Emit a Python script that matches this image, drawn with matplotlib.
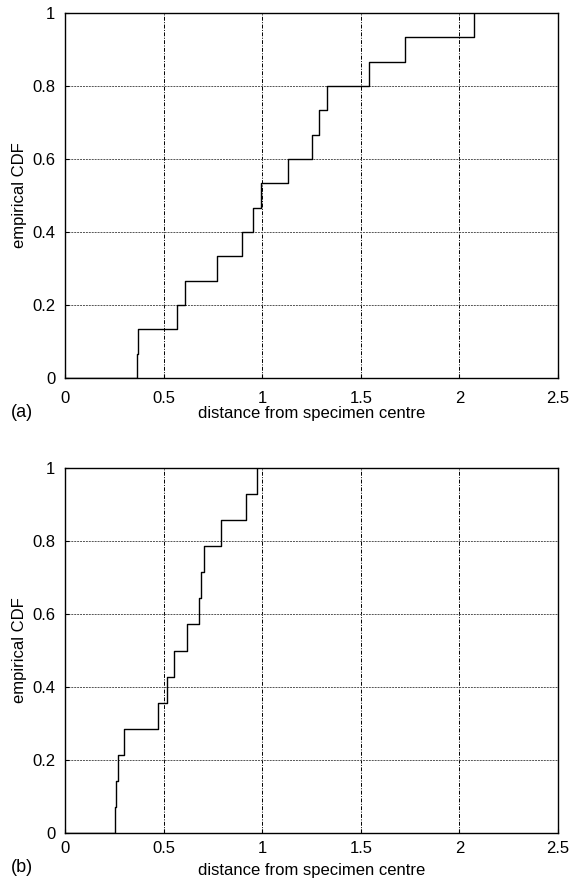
import numpy as np
import matplotlib
matplotlib.use('Agg')
import matplotlib.pyplot as plt

plt.rcParams['font.family'] = ['Liberation Sans', 'DejaVu Sans']

# sorted distances, panel (a) 15 points, panel (b) 14 points
dist_a = [0.365, 0.372, 0.566, 0.608, 0.769, 0.896, 0.952, 0.995,
          1.132, 1.254, 1.286, 1.330, 1.540, 1.726, 2.072]
dist_b = [0.255, 0.257, 0.267, 0.301, 0.470, 0.516, 0.554, 0.620,
          0.681, 0.688, 0.705, 0.789, 0.920, 0.972]

xticks = [0, 0.5, 1, 1.5, 2, 2.5]
xtick_labels = ['0', '0.5', '1', '1.5', '2', '2.5']
yticks = [0, 0.2, 0.4, 0.6, 0.8, 1]
ytick_labels = ['0', '0.2', '0.4', '0.6', '0.8', '1']
panel_labels = ['(a)', '(b)']

fig = plt.figure(figsize=(5.71, 8.83), dpi=100)
rects = [[0.1138, 0.5719, 0.8634, 0.4134],
         [0.1138, 0.0566, 0.8634, 0.4134]]
# tick label pad / xlabel pad per panel
pads = [(9, 0), (6, 5)]

for rect, dist, lab, (tpad, lpad) in zip(rects, [dist_a, dist_b], panel_labels, pads):
    ax = fig.add_axes(rect)
    x = np.sort(np.array(dist))
    n = len(x)
    cdf = np.arange(1, n + 1) / n
    ax.step(np.r_[0, x], np.r_[0, cdf], where='post', color='black', lw=1.0)

    ax.set_xlim(0, 2.5)
    ax.set_ylim(0, 1)
    ax.set_xticks(xticks)
    ax.set_xticklabels(xtick_labels)
    ax.set_yticks(yticks)
    ax.set_yticklabels(ytick_labels)
    ax.tick_params(direction='in', length=3, width=0.8, labelsize=12)
    ax.tick_params(axis='x', pad=tpad)
    ax.tick_params(axis='y', pad=7)
    ax.xaxis.grid(True, color='black', lw=0.7, linestyle=(0, (4, 1.5, 1, 1.5)))
    ax.yaxis.grid(True, color='#555555', lw=0.7, linestyle=(0, (2, 1)))
    for sp in ax.spines.values():
        sp.set_linewidth(1.0)
    ax.set_xlabel('distance from specimen centre', fontsize=12, labelpad=lpad)
    ax.set_ylabel('empirical CDF', fontsize=12, labelpad=4)
    ax.text(-0.11, -0.095, lab, transform=ax.transAxes, fontsize=13,
            ha='left', va='center')

fig.savefig('out.png', dpi=100)
